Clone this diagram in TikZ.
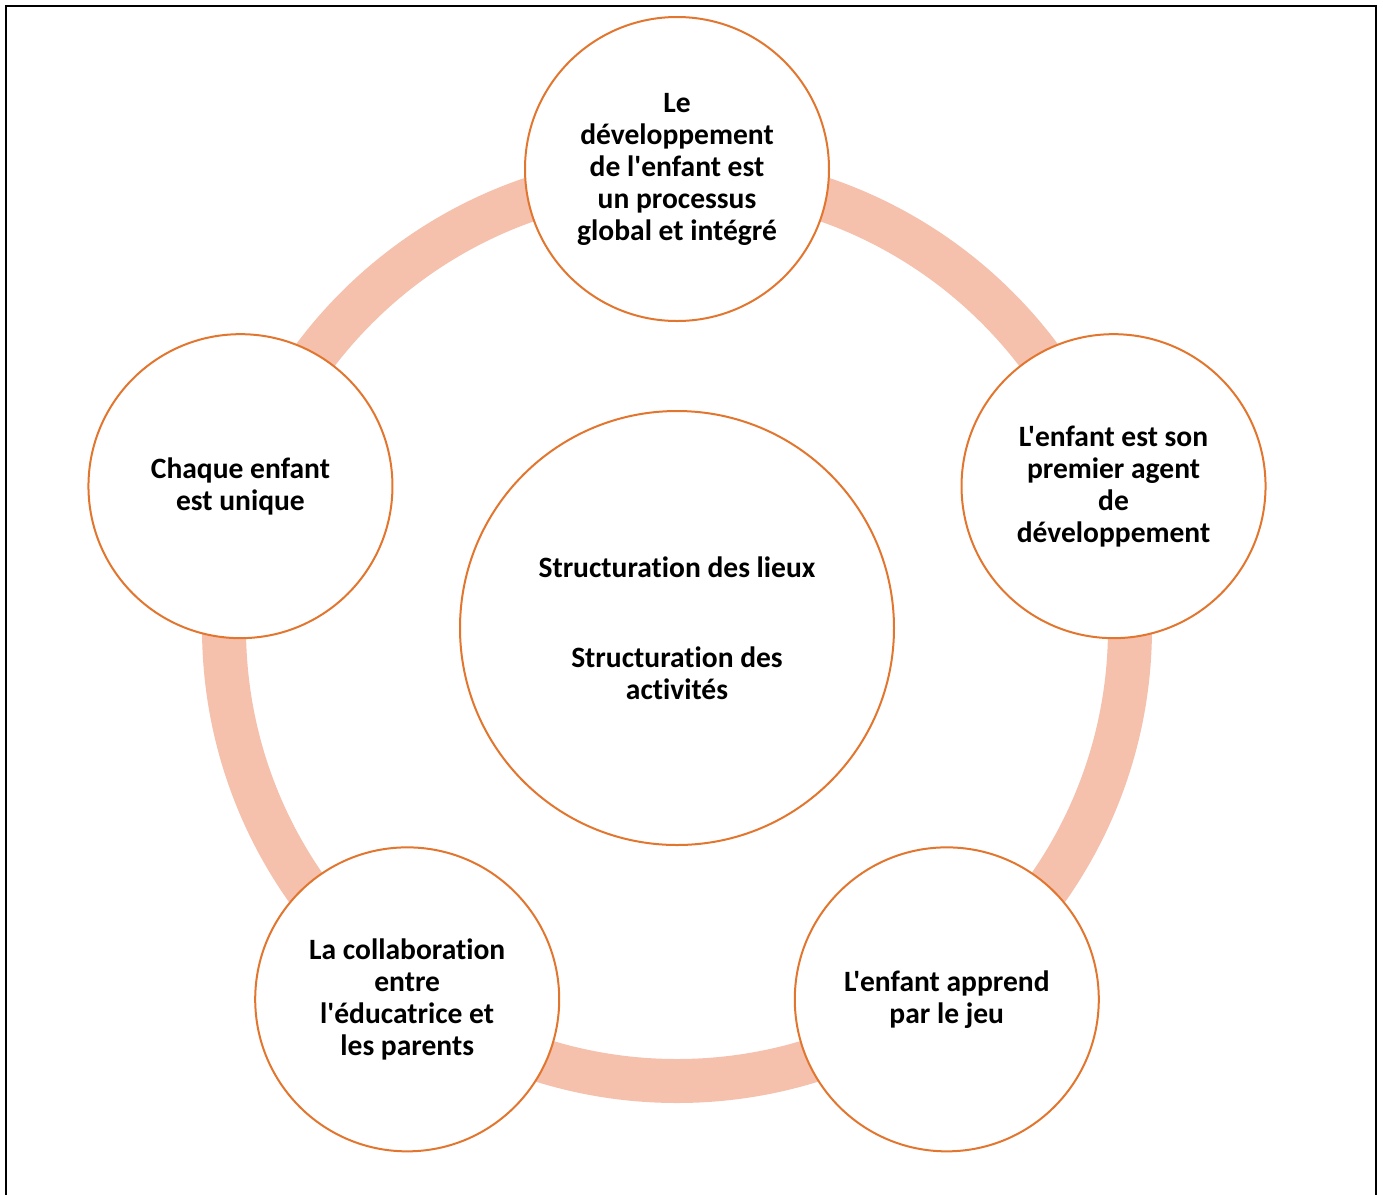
\documentclass[tikz,border=0pt]{standalone}
\usepackage{fontspec}
\newfontfamily\calibri{Carlito}[Ligatures=CommonOff]
\definecolor{ringpink}{HTML}{F5C0AC}
\definecolor{edgeorange}{HTML}{E2762F}

\begin{document}
\begin{tikzpicture}[font=\calibri\bfseries\fontsize{8.4}{9.1}\selectfont,
    idea/.style={draw=edgeorange, line width=0.02cm, fill=white, circle, align=center, minimum size=3.04cm, inner sep=0pt},
    core/.style={idea, minimum size=4.34cm}]

    \useasboundingbox (-6.77,-5.66) rectangle (7.06,6.28);

    % frame
    \draw[line width=0.02cm] (-6.71,-5.8) -- (-6.71,6.22) -- (6.99,6.22) -- (6.99,-5.8);

    % centre
    \node[core] (Core) at (0,0) {Structuration des lieux\\[16.5pt]Structuration des\\activités};

    % ring
    \draw[ringpink, line width=0.44cm] (Core.center) circle (4.53);

    % principles round the ring
    \node[idea] (Global) at (90:4.59) {Le\\développement\\de l'enfant est\\un processus\\global et intégré};
    \node[idea] (Agent) at (18:4.59) {L'enfant est son\\premier agent\\de\\développement};
    \node[idea] (Jeu) at (-54:4.59) {L'enfant apprend\\par le jeu};
    \node[idea] (Parents) at (-126:4.59) {La collaboration\\entre\\l'éducatrice et\\les parents};
    \node[idea] (Unique) at (162:4.59) {Chaque enfant\\est unique};

\end{tikzpicture}
\end{document}
